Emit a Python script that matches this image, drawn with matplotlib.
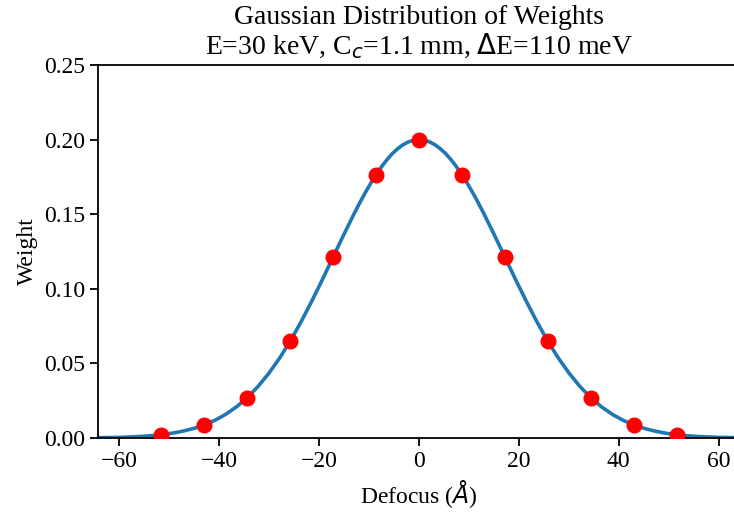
import matplotlib
matplotlib.use("Agg")
import matplotlib.pyplot as plt

# defocus samples (Angstrom) and their weights
dot_x = [-51.6, -43.0, -34.4, -25.8, -17.2, -8.6, 0.0, 8.6, 17.2, 25.8, 34.4, 43.0, 51.6]
dot_w = [0.0022, 0.0088, 0.0271, 0.0649, 0.1213, 0.1765, 0.2000,
         0.1765, 0.1213, 0.0649, 0.0271, 0.0088, 0.0022]

# smooth curve (denser near the peak)
curve_x = [-66.65, -64.50, -62.35, -60.20, -58.05, -55.90, -53.75, -51.60, -49.45,
           -47.30, -45.15, -43.00, -40.85, -38.70, -36.55, -34.40, -32.25, -30.10,
           -27.95, -25.80, -23.65, -21.50, -19.35, -17.20, -15.05, -12.90, -11.825,
           -10.75, -9.675, -8.60, -7.525, -6.45, -5.375, -4.30, -3.225, -2.15, -1.075,
           0.00,
           1.075, 2.15, 3.225, 4.30, 5.375, 6.45, 7.525, 8.60, 9.675, 10.75, 11.825,
           12.90, 15.05, 17.20, 19.35, 21.50, 23.65, 25.80, 27.95, 30.10, 32.25,
           34.40, 36.55, 38.70, 40.85, 43.00, 45.15, 47.30, 49.45, 51.60, 53.75,
           55.90, 58.05, 60.20, 62.35, 64.50, 66.65]
curve_w = [0.0001, 0.0002, 0.0003, 0.0004, 0.0007, 0.0010, 0.0015, 0.0022, 0.0032,
           0.0046, 0.0064, 0.0088, 0.0119, 0.0159, 0.0209, 0.0271, 0.0345, 0.0433,
           0.0534, 0.0649, 0.0777, 0.0916, 0.1062, 0.1213, 0.1364, 0.1510, 0.1579,
           0.1645, 0.1707, 0.1765, 0.1817, 0.1864, 0.1905, 0.1938, 0.1965, 0.1984, 0.1996,
           0.2000,
           0.1996, 0.1984, 0.1965, 0.1938, 0.1905, 0.1864, 0.1817, 0.1765, 0.1707, 0.1645,
           0.1579, 0.1510, 0.1364, 0.1213, 0.1062, 0.0916, 0.0777, 0.0649, 0.0534,
           0.0433, 0.0345, 0.0271, 0.0209, 0.0159, 0.0119, 0.0088, 0.0064, 0.0046,
           0.0032, 0.0022, 0.0015, 0.0010, 0.0007, 0.0004, 0.0003, 0.0002, 0.0001]

plt.rcParams["font.family"] = ["Liberation Serif", "DejaVu Serif"]

fig = plt.figure(figsize=(7.34, 5.17), dpi=100)
# axes runs past the right edge, as in the cropped original
ax = fig.add_axes([98 / 734, 79 / 517, 642 / 734, 373 / 517])
ax.plot(curve_x, curve_w, color="#1f77b4", linewidth=2.6, zorder=2)
ax.plot(dot_x, dot_w, "o", color="red", markersize=10.5, zorder=3)

ax.set_xlim(-64.3, 64.3)
ax.set_ylim(0, 0.25)
ax.set_xticks([-60, -40, -20, 0, 20, 40, 60])
ax.set_yticks([0.0, 0.05, 0.10, 0.15, 0.20, 0.25])
ax.set_yticklabels(["0.00", "0.05", "0.10", "0.15", "0.20", "0.25"])
ax.tick_params(labelsize=17, length=6, width=1.3)
for s in ax.spines.values():
    s.set_linewidth(1.3)
ax.spines["right"].set_visible(False)

ax.set_xlabel("Defocus ($Å$)", fontsize=17)
ax.set_ylabel("Weight", fontsize=17)
ax.set_title("Gaussian Distribution of Weights\n"
             "E=30 keV, C$_c$=1.1 mm, $\\Delta$E=110 meV", fontsize=20,
             linespacing=1.05, pad=8)

fig.savefig("out.png", dpi=100)
